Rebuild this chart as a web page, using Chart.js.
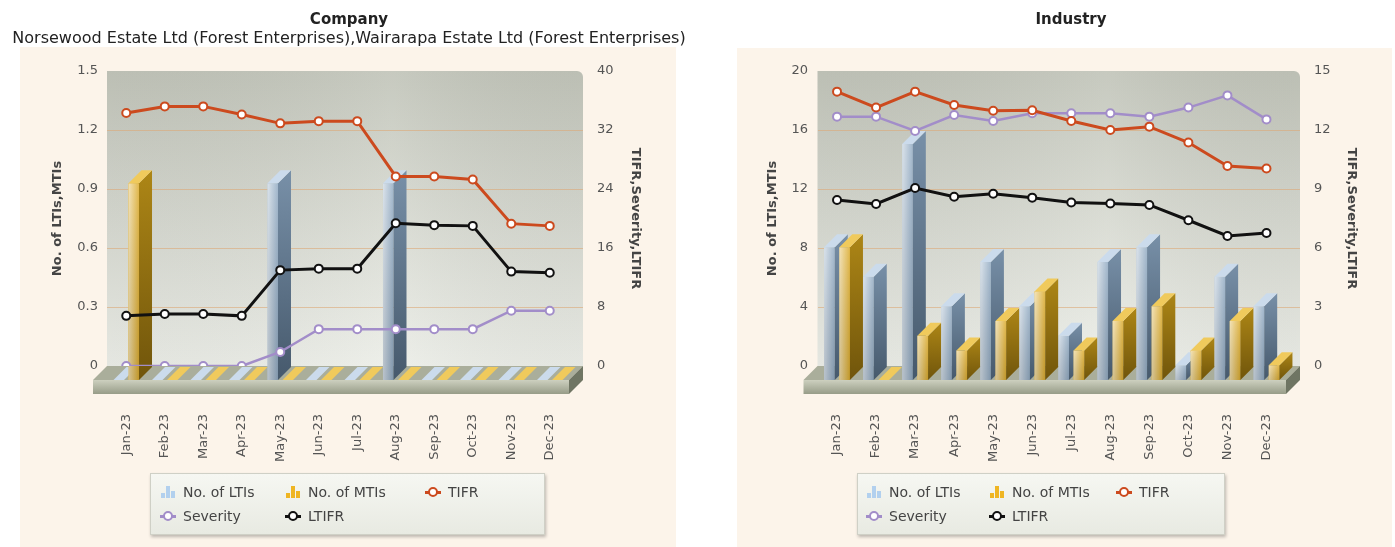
<!DOCTYPE html>
<html lang="en">
<head>
<meta charset="UTF-8">
<title>Company vs Industry</title>
<script src="https://cdn.jsdelivr.net/npm/chart.js@4.4.1/dist/chart.umd.min.js"></script>
<style>
  body { margin: 0; background: #fff; font-family: "DejaVu Sans", Verdana, sans-serif; }
  .wrap { position: relative; width: 1395px; height: 547px; overflow: hidden; }
  .panel { position: absolute; background: #fcf4ea; }
  #panelA { left: 20px; top: 47px; width: 656px; height: 500px; }
  #panelB { left: 737px; top: 48px; width: 655px; height: 499px; }
  canvas { position: absolute; top: 0; }
  #chartA { left: 0; }
  #chartB { left: 747px; }

  .legend {
    position: absolute; top: 473px; height: 62px; box-sizing: border-box;
    border: 1px solid #cfd0c6; background: linear-gradient(#f6f7f2, #e8eae2);
    box-shadow: 1px 2px 3px rgba(0,0,0,0.25);
    display: grid; grid-template-rows: 24px 24px; align-content: center;
    font-size: 14px; color: #444;
  }
  #legendA { left: 150px; width: 395px; padding-left: 9px; grid-template-columns: 125px 140px auto; }
  #legendB { left: 857px; width: 368px; padding-left: 8px; grid-template-columns: 123px 127px auto; }
  .item { display: flex; align-items: center; white-space: nowrap; }
  .icon { width: 16px; height: 14px; margin-right: 7px; position: relative; flex: none; }
  .icon.bars i { position: absolute; bottom: 1px; width: 4px; background: var(--c); }
  .icon.bars i:nth-child(1) { left: 1px; height: 5px; }
  .icon.bars i:nth-child(2) { left: 6px; height: 12px; }
  .icon.bars i:nth-child(3) { left: 11px; height: 7px; }
  .icon.line::before { content: ''; position: absolute; left: 0; right: 0; top: 6px; height: 3px; background: var(--c); }
  .icon.line::after { content: ''; position: absolute; left: 3px; top: 2px; width: 6px; height: 6px;
    border: 2px solid var(--c); border-radius: 50%; background: #fff; }
</style>
</head>
<body>
<div class="wrap">
  <div class="panel" id="panelA"></div>
  <div class="panel" id="panelB"></div>
  <canvas id="chartA" width="698" height="547"></canvas>
  <canvas id="chartB" width="648" height="547"></canvas>
  <div class="legend" id="legendA"></div>
  <div class="legend" id="legendB"></div>
</div>

<script>
const months = ['Jan-23','Feb-23','Mar-23','Apr-23','May-23','Jun-23','Jul-23','Aug-23','Sep-23','Oct-23','Nov-23','Dec-23'];

// Company
const coLTIs     = [0, 0, 0, 0, 1, 0, 0, 1, 0, 0, 0, 0];
const coMTIs     = [1, 0, 0, 0, 0, 0, 0, 0, 0, 0, 0, 0];
const coTIFR     = [34.3, 35.2, 35.2, 34.1, 32.9, 33.2, 33.2, 25.7, 25.7, 25.3, 19.3, 19.0];
const coSeverity = [0, 0, 0, 0, 1.9, 5.0, 5.0, 5.0, 5.0, 5.0, 7.5, 7.5];
const coLTIFR    = [6.8, 7.05, 7.05, 6.8, 13.0, 13.2, 13.2, 19.35, 19.1, 19.0, 12.8, 12.65];

// Industry
const inLTIs     = [9, 7, 16, 5, 8, 5, 3, 8, 9, 1, 7, 5];
const inMTIs     = [9, 0, 3, 2, 4, 6, 2, 4, 5, 2, 4, 1];
const inTIFR     = [13.95, 13.14, 13.95, 13.27, 12.98, 13.0, 12.46, 12.0, 12.17, 11.36, 10.17, 10.04];
const inSeverity = [12.68, 12.68, 11.95, 12.76, 12.46, 12.85, 12.85, 12.85, 12.68, 13.14, 13.76, 12.54];
const inLTIFR    = [8.44, 8.24, 9.05, 8.61, 8.76, 8.56, 8.31, 8.26, 8.19, 7.41, 6.61, 6.76];

const DEPTH = 14;     // 3d depth in px
const PLOT_H = 295;   // height of the back wall
const GRID_COLOR = 'rgba(220,168,118,0.6)';

function barFaces(ctx, el, ds) {
  const d = DEPTH - 1;
  const {x, y, base, width} = el.getProps(['x', 'y', 'base', 'width'], true);
  const l = x - width / 2, r = x + width / 2;
  // shine on the front
  if (base - y > 0) {
    const hg = ctx.createLinearGradient(l, 0, r, 0);
    hg.addColorStop(0, 'rgba(255,255,255,0.6)');
    hg.addColorStop(1, 'rgba(255,255,255,0)');
    ctx.fillStyle = hg;
    ctx.fillRect(l, y, width, base - y);
    const vg = ctx.createLinearGradient(0, y, 0, base);
    vg.addColorStop(0, 'rgba(255,255,255,0.15)');
    vg.addColorStop(1, 'rgba(0,0,0,0.12)');
    ctx.fillStyle = vg;
    ctx.fillRect(l, y, width, base - y);
  }
  // side
  const sg = ctx.createLinearGradient(0, y - d, 0, base);
  sg.addColorStop(0, ds.sideTop);
  sg.addColorStop(1, ds.sideBottom);
  ctx.fillStyle = sg;
  ctx.beginPath();
  ctx.moveTo(r, y);
  ctx.lineTo(r + d, y - d);
  ctx.lineTo(r + d, base - d);
  ctx.lineTo(r, base);
  ctx.closePath();
  ctx.fill();
  // top
  ctx.fillStyle = ds.topColor;
  ctx.beginPath();
  ctx.moveTo(l, y);
  ctx.lineTo(l + d, y - d);
  ctx.lineTo(r + d, y - d);
  ctx.lineTo(r, y);
  ctx.closePath();
  ctx.fill();
}

// draws the back wall, the floor and the side/top faces of the bars
const scene3d = {
  id: 'scene3d',
  beforeDraw(chart) {
    const {ctx, chartArea: a} = chart;
    ctx.save();
    const g = ctx.createLinearGradient(0, a.top, 0, a.bottom);
    g.addColorStop(0, '#c2c5ba');
    g.addColorStop(1, '#eceee8');
    ctx.fillStyle = g;
    ctx.beginPath();
    ctx.roundRect(a.left, a.top, a.right + DEPTH - a.left, a.bottom - a.top + 2, [0, 6, 0, 0]);
    ctx.fill();
    const h = ctx.createLinearGradient(a.left, 0, a.right + DEPTH, 0);
    h.addColorStop(0, 'rgba(0,0,0,0.03)');
    h.addColorStop(0.6, 'rgba(255,255,255,0.08)');
    h.addColorStop(1, 'rgba(0,0,0,0.03)');
    ctx.fillStyle = h;
    ctx.fill();
    ctx.restore();
  },
  beforeDatasetsDraw(chart) {
    const {ctx, chartArea: a} = chart;
    const b = a.bottom;
    const ys = chart.scales.y;
    ctx.save();
    // grid lines carry on over the depth of the wall
    ctx.strokeStyle = GRID_COLOR;
    ctx.lineWidth = 1;
    ys.ticks.forEach(t => {
      if (t.value <= ys.min || t.value >= ys.max) return;
      const py = Math.round(ys.getPixelForValue(t.value)) + 0.5;
      ctx.beginPath();
      ctx.moveTo(a.right, py);
      ctx.lineTo(a.right + DEPTH, py);
      ctx.stroke();
    });
    // top of the floor
    ctx.fillStyle = '#aaae9b';
    ctx.beginPath();
    ctx.moveTo(a.left, b);
    ctx.lineTo(a.right + DEPTH, b);
    ctx.lineTo(a.right, b + DEPTH);
    ctx.lineTo(a.left - DEPTH, b + DEPTH);
    ctx.closePath();
    ctx.fill();
    // front of the floor
    const f = ctx.createLinearGradient(0, b + DEPTH, 0, b + DEPTH + 14);
    f.addColorStop(0, '#cdd0bf');
    f.addColorStop(1, '#979c88');
    ctx.fillStyle = f;
    ctx.fillRect(a.left - DEPTH, b + DEPTH, a.right - a.left + DEPTH, 14);
    // right end
    ctx.fillStyle = '#6f7563';
    ctx.beginPath();
    ctx.moveTo(a.right, b + DEPTH);
    ctx.lineTo(a.right + DEPTH, b);
    ctx.lineTo(a.right + DEPTH, b + 14);
    ctx.lineTo(a.right, b + DEPTH + 14);
    ctx.closePath();
    ctx.fill();
    ctx.restore();
  },
  afterDatasetDraw(chart, args) {
    // LTIs (dataset 0) is the last bar set drawn: finish both bar sets here, left to right
    if (args.meta.index !== 0) return;
    const ctx = chart.ctx;
    ctx.save();
    [0, 1].forEach(i => {
      const meta = chart.getDatasetMeta(i);
      const ds = chart.data.datasets[i];
      meta.data.forEach(el => {
        if (i > 0) el.draw(ctx);
        barFaces(ctx, el, ds);
      });
    });
    ctx.restore();
  }
};

// html legend built from the chart's legend items
const htmlLegend = {
  id: 'htmlLegend',
  afterUpdate(chart, args, opts) {
    const box = document.getElementById(opts.containerID);
    box.innerHTML = '';
    const items = chart.options.plugins.legend.labels.generateLabels(chart);
    items.sort((a, b) => a.datasetIndex - b.datasetIndex);
    items.forEach(item => {
      const ds = chart.data.datasets[item.datasetIndex];
      const el = document.createElement('div');
      el.className = 'item';
      const icon = document.createElement('span');
      icon.className = 'icon ' + (ds.type === 'line' ? 'line' : 'bars');
      icon.style.setProperty('--c', ds.legendColor);
      if (ds.type !== 'line') icon.innerHTML = '<i></i><i></i><i></i>';
      const txt = document.createElement('span');
      txt.textContent = item.text;
      el.appendChild(icon);
      el.appendChild(txt);
      box.appendChild(el);
    });
  }
};

function lineSet(label, data, color, width) {
  return {
    type: 'line', label: label, data: data, yAxisID: 'y1', order: 1,
    borderColor: color, borderWidth: width, legendColor: color,
    pointRadius: 4, pointHoverRadius: 4, pointBorderWidth: 2,
    pointBackgroundColor: '#fff', pointBorderColor: color,
    tension: 0, fill: false
  };
}

function makeChart(id, cfg) {
  const yShift = DEPTH * cfg.leftMax / PLOT_H;
  return new Chart(document.getElementById(id), {
    type: 'bar',
    data: {
      labels: months,
      datasets: [
        { label: 'No. of LTIs', data: cfg.ltis, yAxisID: 'yb', order: 2,
          backgroundColor: '#92abc3', legendColor: '#b2d0ee',
          sideTop: '#7890a8', sideBottom: '#46596c', topColor: '#cbdbec',
          categoryPercentage: 0.78, barPercentage: 0.7, clip: false },
        { label: 'No. of MTIs', data: cfg.mtis, yAxisID: 'yb', order: 3,
          backgroundColor: '#dcac2e', legendColor: '#efb522',
          sideTop: '#ad8616', sideBottom: '#70550b', topColor: '#f0ca5c',
          categoryPercentage: 0.78, barPercentage: 0.7, clip: false },
        lineSet('TIFR', cfg.tifr, '#cc4a1e', 3),
        lineSet('Severity', cfg.severity, '#a28dc9', 2.5),
        lineSet('LTIFR', cfg.ltifr, '#111111', 3)
      ]
    },
    options: {
      responsive: false,
      animation: false,
      devicePixelRatio: 1,
      layout: { padding: { left: cfg.padLeft, right: cfg.padRight, top: 0, bottom: 81 } },
      plugins: {
        legend: { display: false },
        tooltip: { enabled: false },
        htmlLegend: { containerID: cfg.legendId },
        title: {
          display: true, text: cfg.title, color: '#222',
          font: { family: 'DejaVu Sans', size: 15, weight: 'bold' },
          padding: cfg.subtitle ? { top: 11, bottom: 0 } : { top: 11, bottom: 42 }
        },
        subtitle: {
          display: !!cfg.subtitle, text: cfg.subtitle || '', color: '#222',
          font: { family: 'DejaVu Sans', size: 16 },
          padding: { top: 0, bottom: 22.8 }
        }
      },
      scales: {
        x: {
          offset: true,
          grid: { display: false },
          border: { display: false },
          ticks: { autoSkip: false, minRotation: 90, maxRotation: 90, padding: 40,
                   color: '#555', font: { family: 'DejaVu Sans', size: 13 } },
          afterFit: s => { s.height = 100; }
        },
        y: {
          position: 'left', min: 0, max: cfg.leftMax,
          ticks: { stepSize: cfg.leftStep, padding: cfg.leftPad, color: '#555',
                   font: { family: 'DejaVu Sans', size: 13 } },
          grid: { drawTicks: false,
                  color: c => (c.tick.value > 0 && c.tick.value < cfg.leftMax) ? GRID_COLOR : 'rgba(0,0,0,0)' },
          border: { display: false },
          title: { display: true, text: 'No. of LTIs,MTIs', color: '#444',
                   font: { family: 'DejaVu Sans', size: 13, weight: 'bold' },
                   padding: { top: cfg.leftTitlePad, bottom: 0 } },
          afterFit: s => { s.width = cfg.leftWidth; }
        },
        yb: {
          display: false, position: 'left',
          min: yShift, max: cfg.leftMax + yShift
        },
        y1: {
          position: 'right', min: 0, max: cfg.rightMax,
          ticks: { stepSize: cfg.rightStep, padding: 20, color: '#555',
                   font: { family: 'DejaVu Sans', size: 13 } },
          grid: { display: false },
          border: { display: false },
          title: { display: true, text: 'TIFR,Severity,LTIFR', color: '#444',
                   font: { family: 'DejaVu Sans', size: 13, weight: 'bold' },
                   padding: { top: cfg.rightTitlePad, bottom: 0 } },
          afterFit: s => { s.width = cfg.rightWidth; }
        }
      }
    },
    plugins: [scene3d, htmlLegend]
  });
}

makeChart('chartA', {
  title: 'Company',
  subtitle: 'Norsewood Estate Ltd (Forest Enterprises),Wairarapa Estate Ltd (Forest Enterprises)',
  ltis: coLTIs, mtis: coMTIs, tifr: coTIFR, severity: coSeverity, ltifr: coLTIFR,
  leftMax: 1.5, leftStep: 0.3, rightMax: 40, rightStep: 8,
  padLeft: 2, padRight: 2, leftWidth: 105, leftPad: 9, leftTitlePad: 48,
  rightWidth: 127, rightTitlePad: 53, legendId: 'legendA'
});

makeChart('chartB', {
  title: 'Industry',
  ltis: inLTIs, mtis: inMTIs, tifr: inTIFR, severity: inSeverity, ltifr: inLTIFR,
  leftMax: 20, leftStep: 4, rightMax: 15, rightStep: 3,
  padLeft: 0, padRight: 0, leftWidth: 70.5, leftPad: 9.5, leftTitlePad: 18,
  rightWidth: 109, rightTitlePad: 36, legendId: 'legendB'
});
</script>
</body>
</html>
